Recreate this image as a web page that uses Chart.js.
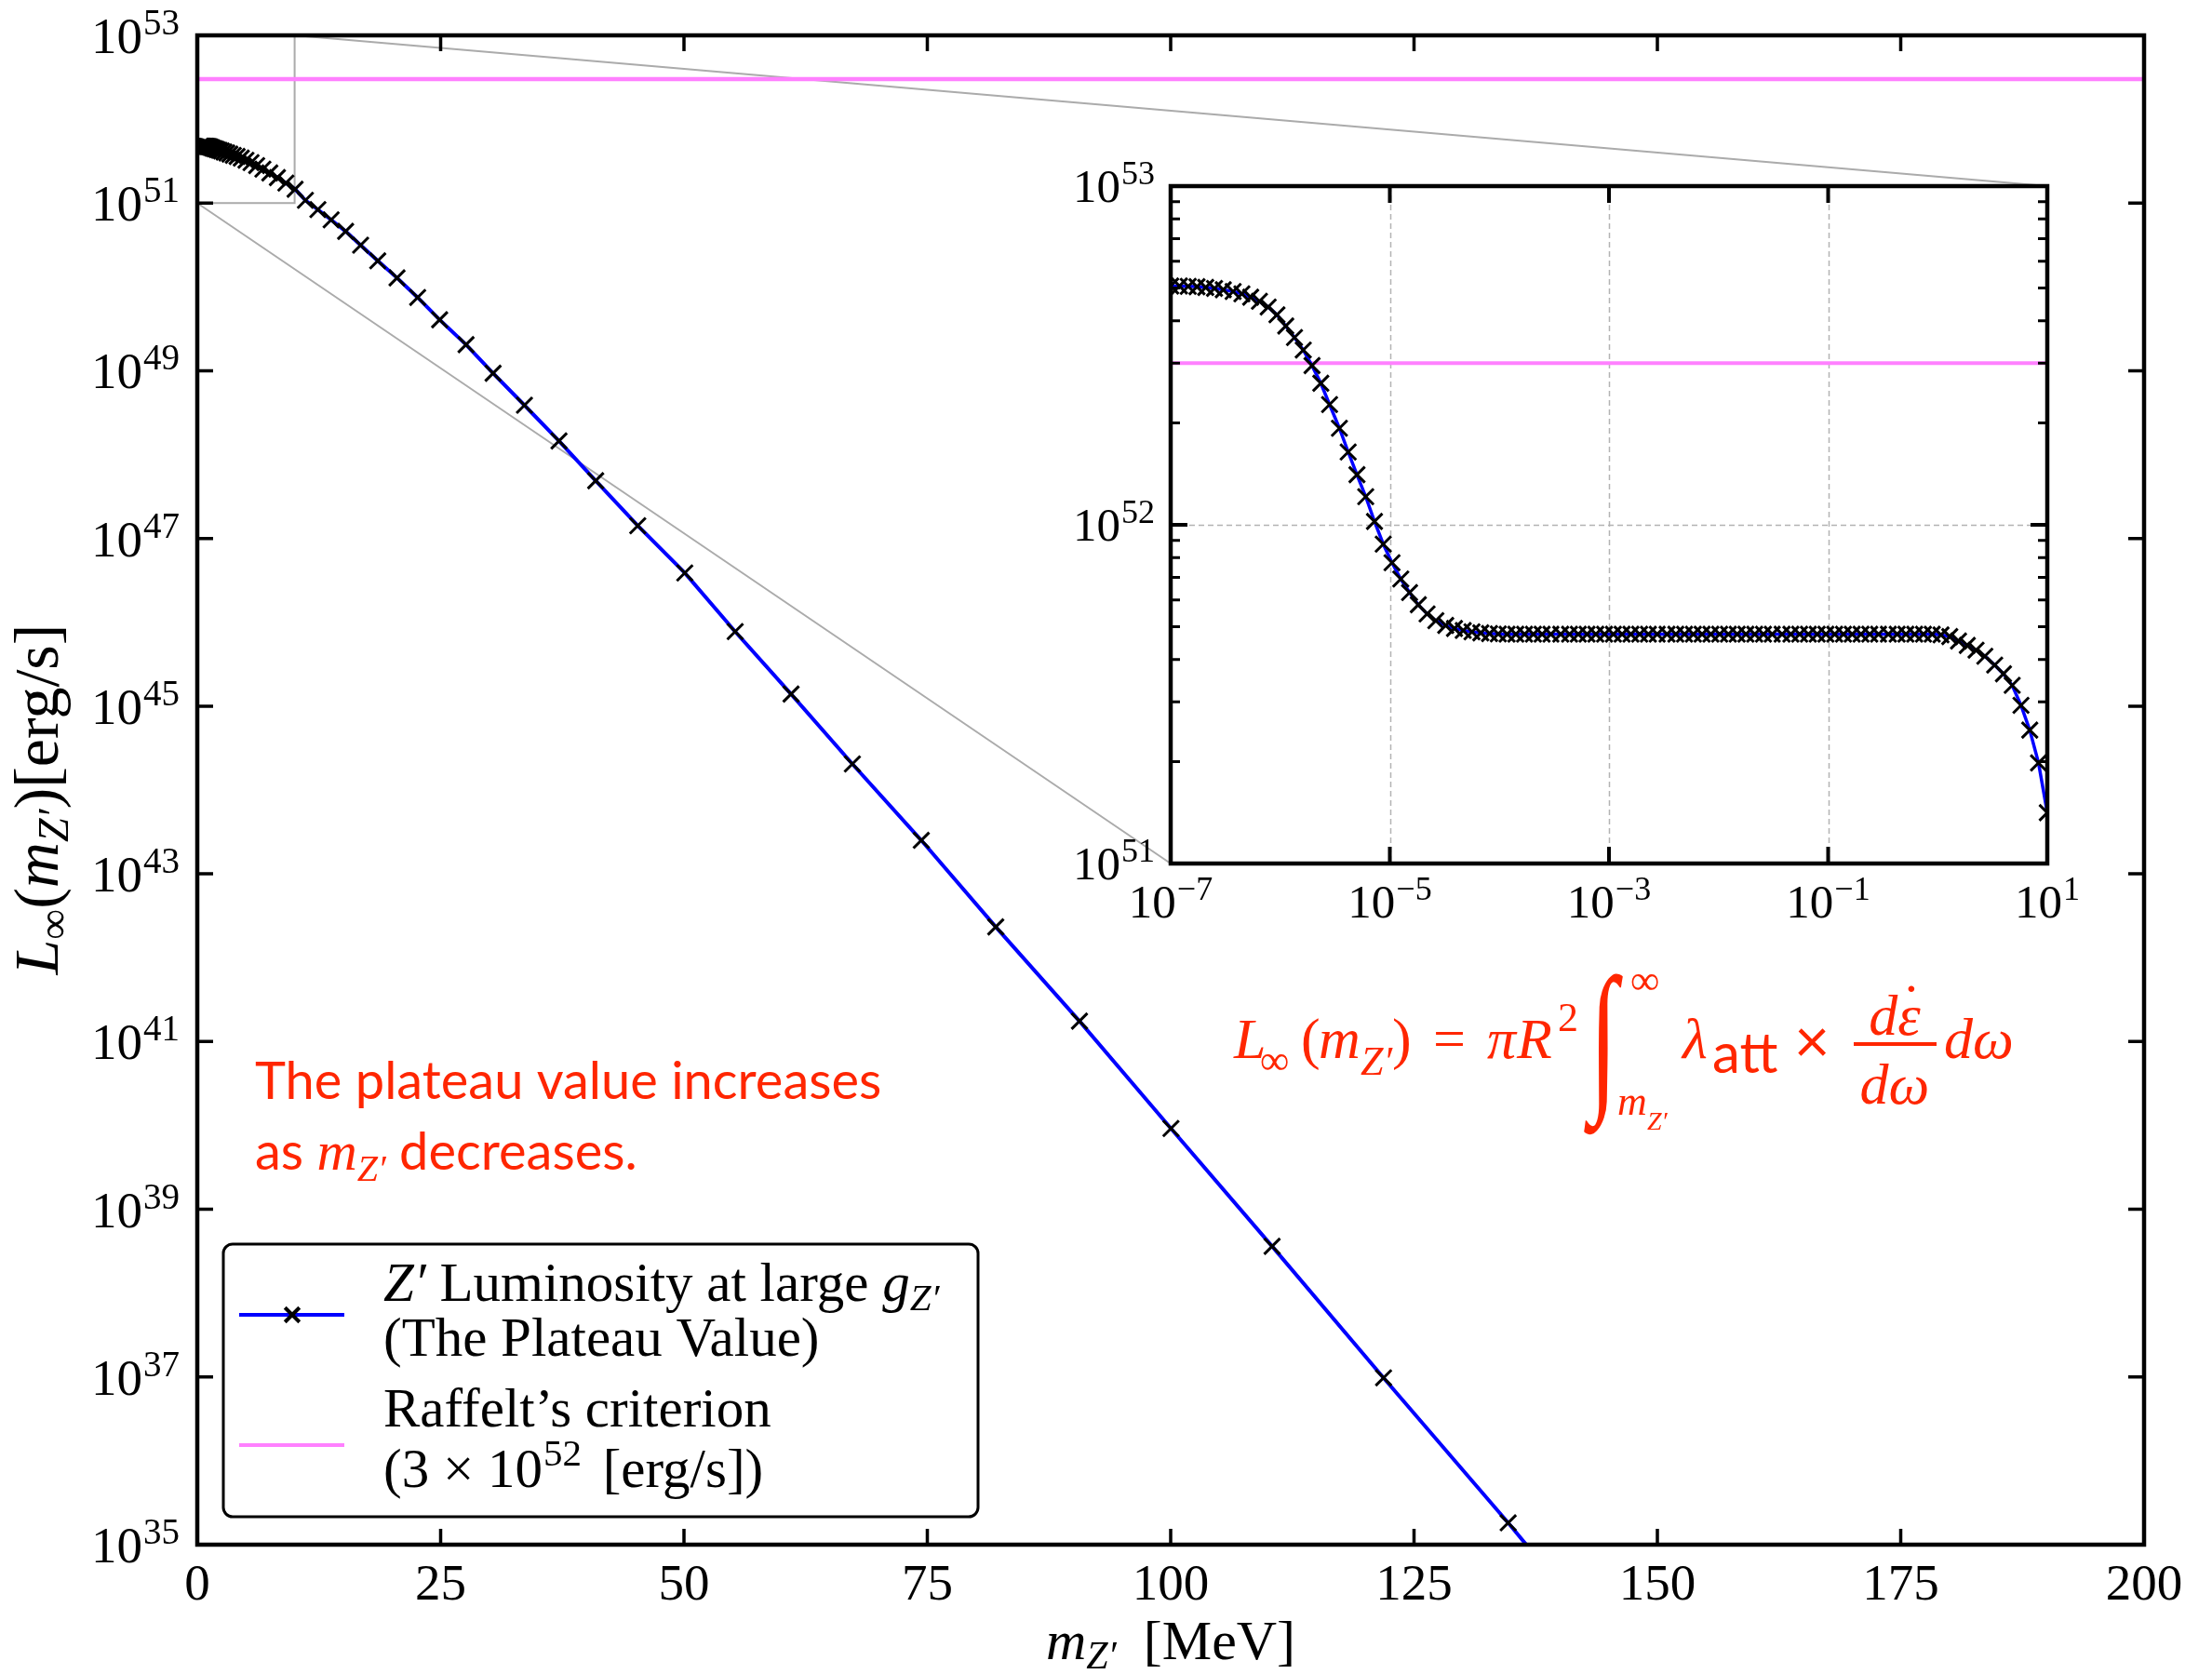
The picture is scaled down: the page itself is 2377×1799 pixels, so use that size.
<!DOCTYPE html>
<html>
<head>
<meta charset="utf-8">
<script src="https://cdn.jsdelivr.net/npm/chart.js@4.4.1/dist/chart.umd.min.js"></script>
<style>
  html, body { margin: 0; padding: 0; background: #fff; }
  #wrap { position: relative; width: 2377px; height: 1799px; overflow: hidden; }
  #main { position: absolute; left: 0; top: 0; width: 2377px; height: 1799px; }
  #inset { position: absolute; left: 1080px; top: 150px; width: 1180px; height: 860px; }
</style>
</head>
<body>
<div id="wrap">
  <canvas id="main" width="2377" height="1799"></canvas>
  <canvas id="inset" width="1180" height="860"></canvas>
</div>
<script>
const mainMass = [
  0.30, 0.34, 0.37, 0.41, 0.45, 0.50, 0.55, 0.61, 0.68, 0.75, 0.83, 0.91,
  1.01, 1.12, 1.23, 1.36, 1.51, 1.67, 1.84, 2.03, 2.25, 2.48,
  2.74, 3.03, 3.35, 3.70, 4.09, 4.52, 5.00, 5.52, 6.10, 6.74,
  7.45, 8.23, 9.10, 10.05,
  11.11, 12.39, 13.75, 15.24, 16.78, 18.54, 20.52, 22.64, 24.90, 27.61,
  30.39, 33.61, 37.16, 40.93, 45.25, 50.08, 55.26, 61.00, 67.30, 74.38,
  82.03, 90.63, 100.03, 110.42, 121.87, 134.67, 148.7,
];
const mainLogL = [
  51.677, 51.677, 51.677, 51.677, 51.677, 51.677, 51.676, 51.676, 51.676, 51.676, 51.676, 51.676,
  51.675, 51.674, 51.671, 51.667, 51.659, 51.652, 51.646, 51.638, 51.630, 51.621,
  51.609, 51.598, 51.584, 51.569, 51.556, 51.537, 51.511, 51.482, 51.447, 51.405,
  51.359, 51.303, 51.238, 51.165,
  51.033, 50.922, 50.800, 50.663, 50.497, 50.311, 50.108, 49.874, 49.608, 49.311,
  48.970, 48.589, 48.163, 47.689, 47.152, 46.589, 45.889, 45.144, 44.311, 43.400,
  42.367, 41.244, 39.963, 38.558, 36.990, 35.260, 33.300,
];

// inset: log10 m_Z' and log10 L
const insetLogMass = [
  -7.00, -6.92, -6.84, -6.76, -6.68, -6.60, -6.52, -6.43, -6.35, -6.27,
  -6.19, -6.11, -6.03, -5.95, -5.87, -5.79, -5.71, -5.63, -5.55, -5.46,
  -5.38, -5.30, -5.22, -5.14, -5.06, -4.98, -4.90, -4.82, -4.74, -4.66,
  -4.58, -4.49, -4.41, -4.33, -4.25, -4.17, -4.09, -4.01, -3.93, -3.85,
  -3.77, -3.69, -3.61, -3.53, -3.44, -3.36, -3.28, -3.20, -3.12, -3.04,
  -2.96, -2.88, -2.80, -2.72, -2.64, -2.56, -2.47, -2.39, -2.31, -2.23,
  -2.15, -2.07, -1.99, -1.91, -1.83, -1.75, -1.67, -1.59, -1.51, -1.42,
  -1.34, -1.26, -1.18, -1.10, -1.02, -0.94, -0.86, -0.78, -0.70, -0.62,
  -0.54, -0.45, -0.37, -0.29, -0.21, -0.13, -0.05, 0.03, 0.11, 0.19,
  0.27, 0.35, 0.43, 0.52, 0.60, 0.68, 0.76, 0.84, 0.92, 1.00,
];
const insetLogL = [
  52.705, 52.705, 52.704, 52.703, 52.701, 52.698, 52.694, 52.689, 52.682, 52.672,
  52.660, 52.643, 52.620, 52.587, 52.553, 52.516, 52.470, 52.418, 52.355, 52.285,
  52.215, 52.148, 52.083, 52.010, 51.943, 51.888, 51.840, 51.800, 51.764, 51.737,
  51.717, 51.703, 51.694, 51.688, 51.684, 51.681, 51.679, 51.678, 51.677, 51.677,
  51.677, 51.677, 51.677, 51.677, 51.677, 51.677, 51.677, 51.677, 51.677, 51.677,
  51.677, 51.677, 51.677, 51.677, 51.677, 51.677, 51.677, 51.677, 51.677, 51.677,
  51.677, 51.677, 51.677, 51.677, 51.677, 51.677, 51.677, 51.677, 51.677, 51.677,
  51.677, 51.677, 51.677, 51.677, 51.677, 51.677, 51.677, 51.677, 51.677, 51.677,
  51.677, 51.677, 51.677, 51.677, 51.677, 51.677, 51.677, 51.675, 51.670, 51.657,
  51.644, 51.630, 51.612, 51.586, 51.560, 51.526, 51.467, 51.394, 51.297, 51.150,
];

const raffeltL = 3e52;

// axes
const mainXRange = [0, 200];
const mainYRange = [1e35, 1e53];
const mainXTicks = [0, 25, 50, 75, 100, 125, 150, 175, 200];
const mainYExponents = [35, 37, 39, 41, 43, 45, 47, 49, 51, 53];
const insetXRange = [1e-7, 1e1];
const insetYRange = [1e51, 1e53];
const insetXExponents = [-7, -5, -3, -1, 1];
const insetYExponents = [51, 52, 53];
const insetMinorSteps = [2, 3, 4, 5, 6, 7, 8, 9];

const SERIF = '"Liberation Serif", "DejaVu Serif", serif';
const SANS = 'Lato, "Noto Sans", sans-serif';
const BLUE = '#0000ff';
const PINK = '#ff80ff';
const GREY = '#ababab';
const RED = '#ff2600';
const INSET_X = 1080, INSET_Y = 150;

const rm = (s) => `${s}px ${SERIF}`;
const it = (s) => `italic ${s}px ${SERIF}`;

function runWidth(ctx, parts) {
  let w = 0;
  for (const p of parts) {
    ctx.font = p.f;
    w += ctx.measureText(p.t).width + (p.dx || 0);
  }
  return w;
}

function drawRun(ctx, parts, x, y, align) {
  const w = runWidth(ctx, parts);
  let cx = align === 'right' ? x - w : align === 'center' ? x - w / 2 : x;
  ctx.textAlign = 'left';
  ctx.textBaseline = 'alphabetic';
  for (const p of parts) {
    ctx.font = p.f;
    cx += p.dx || 0;
    ctx.fillText(p.t, cx, y + (p.dy || 0));
    cx += ctx.measureText(p.t).width;
  }
}

function powRun(e, base, sup, rise) {
  const txt = e < 0 ? '\u2212' + Math.abs(e) : String(e);
  return [{ t: '10', f: rm(base) }, { t: txt, f: rm(sup), dy: -rise, dx: 1 }];
}

const insetDecor = {
  id: 'insetDecor',
  beforeDraw(chart) {
    const { ctx, chartArea: a } = chart;
    ctx.save();
    ctx.fillStyle = '#fff';
    ctx.fillRect(a.left, a.top, a.right - a.left, a.bottom - a.top);
    ctx.restore();
  },
  beforeDatasetsDraw(chart) {
    const { ctx, chartArea: a, scales: { x, y } } = chart;
    ctx.save();
    ctx.strokeStyle = '#b3b3b3';
    ctx.lineWidth = 1.5;
    ctx.setLineDash([6, 4]);
    ctx.beginPath();
    insetXExponents.slice(1, -1).forEach((e) => {
      const px = Math.round(x.getPixelForValue(10 ** e)) + 0.5;
      ctx.moveTo(px, a.top); ctx.lineTo(px, a.bottom);
    });
    insetYExponents.slice(1, -1).forEach((e) => {
      const py = Math.round(y.getPixelForValue(10 ** e)) + 0.5;
      ctx.moveTo(a.left, py); ctx.lineTo(a.right, py);
    });
    ctx.stroke();
    ctx.restore();
  },
  afterDatasetsDraw(chart) {
    const { ctx, chartArea: a, scales: { x, y } } = chart;
    ctx.save();
    ctx.strokeStyle = '#000';
    ctx.lineWidth = 4;
    ctx.beginPath();
    insetXExponents.forEach((e) => {
      const px = x.getPixelForValue(10 ** e);
      ctx.moveTo(px, a.bottom); ctx.lineTo(px, a.bottom - 18);
      ctx.moveTo(px, a.top); ctx.lineTo(px, a.top + 18);
    });
    insetYExponents.forEach((e) => {
      const py = y.getPixelForValue(10 ** e);
      ctx.moveTo(a.left, py); ctx.lineTo(a.left + 18, py);
      ctx.moveTo(a.right, py); ctx.lineTo(a.right - 18, py);
    });
    ctx.stroke();
    ctx.lineWidth = 3;
    ctx.beginPath();
    insetYExponents.slice(0, -1).forEach((e) => {
      insetMinorSteps.forEach((k) => {
        const py = y.getPixelForValue(k * 10 ** e);
        ctx.moveTo(a.left, py); ctx.lineTo(a.left + 10, py);
        ctx.moveTo(a.right, py); ctx.lineTo(a.right - 10, py);
      });
    });
    ctx.stroke();
    ctx.lineWidth = 4.5;
    ctx.strokeRect(a.left, a.top, a.right - a.left, a.bottom - a.top);

    ctx.fillStyle = '#000';
    insetXExponents.forEach((e) => {
      drawRun(ctx, powRun(e, 51, 36, 19), x.getPixelForValue(10 ** e), a.bottom + 58, 'center');
    });
    insetYExponents.forEach((e) => {
      drawRun(ctx, powRun(e, 51, 36, 19), a.left - 17, y.getPixelForValue(10 ** e) + 17, 'right');
    });
    ctx.restore();
  },
};

const insetChart = new Chart(document.getElementById('inset'), {
  type: 'line',
  data: {
    datasets: [
      {
        label: 'inset',
        data: insetLogMass.map((v, i) => ({ x: 10 ** v, y: 10 ** insetLogL[i] })),
        borderColor: BLUE,
        borderWidth: 3.5,
        pointStyle: 'crossRot',
        pointRadius: 12,
        pointBorderColor: '#000',
        pointBorderWidth: 3,
        pointBackgroundColor: 'rgba(0,0,0,0)',
        tension: 0,
        clip: 0,
      },
      {
        label: 'raffelt',
        data: [{ x: insetXRange[0], y: raffeltL }, { x: insetXRange[1], y: raffeltL }],
        borderColor: PINK,
        borderWidth: 4,
        pointRadius: 0,
        clip: 0,
      },
    ],
  },
  options: {
    responsive: false,
    animation: false,
    devicePixelRatio: 1,
    events: [],
    layout: { padding: { left: 178, top: 50, right: 60, bottom: 82 } },
    plugins: { legend: { display: false }, tooltip: { enabled: false } },
    scales: {
      x: { type: 'logarithmic', min: insetXRange[0], max: insetXRange[1], display: false },
      y: { type: 'logarithmic', min: insetYRange[0], max: insetYRange[1], display: false },
    },
  },
  plugins: [insetDecor],
});

function drawLegend(ctx) {
  const L = 240, T = 1337, R = 1051, B = 1630;
  ctx.save();
  ctx.beginPath();
  ctx.roundRect(L, T, R - L, B - T, 10);
  ctx.fillStyle = '#fff';
  ctx.fill();
  ctx.lineWidth = 3;
  ctx.strokeStyle = '#000';
  ctx.stroke();

  ctx.lineWidth = 4;
  ctx.strokeStyle = BLUE;
  ctx.beginPath(); ctx.moveTo(257, 1413); ctx.lineTo(370, 1413); ctx.stroke();
  ctx.strokeStyle = '#000';
  Chart.helpers.drawPoint(ctx, { pointStyle: 'crossRot', radius: 11, borderWidth: 3, rotation: 0 }, 314, 1413);
  ctx.strokeStyle = PINK;
  ctx.lineWidth = 4;
  ctx.beginPath(); ctx.moveTo(257, 1553); ctx.lineTo(370, 1553); ctx.stroke();

  ctx.fillStyle = '#000';
  const fs = 59;
  drawRun(ctx, [
    { t: 'Z\u2032', f: it(fs) },
    { t: ' Luminosity at large ', f: rm(fs) },
    { t: 'g', f: it(fs) },
    { t: 'Z\u2032', f: it(41), dy: 10 },
  ], 412, 1398, 'left');
  drawRun(ctx, [{ t: '(The Plateau Value)', f: rm(fs) }], 412, 1457, 'left');
  drawRun(ctx, [{ t: 'Raffelt\u2019s criterion', f: rm(fs) }], 412, 1533, 'left');
  drawRun(ctx, [
    { t: '(3 \u00d7 10', f: rm(fs) },
    { t: '52', f: rm(41), dy: -23, dx: 1 },
    { t: ' [erg/s])', f: rm(fs), dx: 8 },
  ], 412, 1598, 'left');
  ctx.restore();
}

function drawNotes(ctx) {
  ctx.save();
  ctx.fillStyle = RED;
  drawRun(ctx, [{ t: 'The plateau value increases', f: `56px ${SANS}` }], 274, 1181, 'left');
  drawRun(ctx, [
    { t: 'as ', f: `56px ${SANS}` },
    { t: 'm', f: it(60) },
    { t: 'Z\u2032', f: it(40), dy: 12 },
    { t: ' decreases.', f: `56px ${SANS}` },
  ], 274, 1257, 'left');

  // L_inf(m_Z') = pi R^2 int lambda_att x d(eps dot)/d(omega) d(omega)
  const f = 62, s = 44;
  ctx.textAlign = 'left';
  ctx.textBaseline = 'alphabetic';
  const put = (t, fnt, x, y) => { ctx.font = fnt; ctx.fillText(t, x, y); };
  put('L', it(f), 1326, 1137);
  put('\u221e', rm(s), 1354, 1154);
  put('(', rm(f), 1398, 1137);
  put('m', it(f), 1417, 1137);
  put('Z\u2032', it(s), 1462, 1155);
  put(')', rm(f), 1496, 1137);
  put('=', rm(f), 1540, 1137);
  put('\u03c0', it(f), 1598, 1137);
  put('R', it(f), 1630, 1137);
  put('2', rm(s), 1674, 1108);
  ctx.save();
  ctx.translate(1708, 1172);
  ctx.scale(1, 1.6);
  put('\u222b', it(110), 0, 0);
  ctx.restore();
  put('\u221e', rm(s), 1752, 1068);
  put('m', it(s), 1738, 1198);
  put('Z\u2032', it(28), 1770, 1214);
  put('\u03bb', it(f), 1808, 1137);
  put('att', `60px ${SANS}`, 1840, 1153);
  put('\u00d7', `66px ${SANS}`, 1928, 1142);
  ctx.font = it(f);
  const dW = ctx.measureText('d').width;
  const eW = ctx.measureText('\u03b5').width;
  const numX = 2036 - (dW + eW) / 2;
  put('d', it(f), numX, 1112);
  put('\u03b5', it(f), numX + dW, 1112);
  put('\u02d9', rm(f), numX + dW + eW / 2 - 8, 1112 - 12);
  ctx.font = it(f);
  const den = 'd\u03c9';
  put(den, it(f), 2036 - ctx.measureText(den).width / 2, 1186);
  ctx.fillRect(1992, 1120, 89, 4);
  put('d\u03c9', it(f), 2089, 1137);
  ctx.restore();
}

const mainDecor = {
  id: 'mainDecor',
  beforeDatasetsDraw(chart) {
    const { ctx, scales: { x, y } } = chart;
    const ia = insetChart.chartArea;
    const bl = x.getPixelForValue(0);
    const br = x.getPixelForValue(insetXRange[1]);
    const bt = y.getPixelForValue(insetYRange[1]);
    const bb = y.getPixelForValue(insetYRange[0]);
    ctx.save();
    ctx.strokeStyle = GREY;
    ctx.lineWidth = 2;
    ctx.strokeRect(bl, bt, br - bl, bb - bt);
    ctx.beginPath();
    ctx.moveTo(br, bt); ctx.lineTo(INSET_X + ia.right, INSET_Y + ia.top);
    ctx.moveTo(bl, bb); ctx.lineTo(INSET_X + ia.left, INSET_Y + ia.bottom);
    ctx.stroke();
    ctx.restore();
  },
  afterDatasetsDraw(chart) {
    const { ctx, chartArea: a, scales: { x, y } } = chart;
    ctx.save();
    ctx.strokeStyle = '#000';
    ctx.lineWidth = 3.5;
    ctx.beginPath();
    mainXTicks.forEach((v) => {
      const px = x.getPixelForValue(v);
      ctx.moveTo(px, a.bottom); ctx.lineTo(px, a.bottom - 17);
      ctx.moveTo(px, a.top); ctx.lineTo(px, a.top + 17);
    });
    mainYExponents.forEach((e) => {
      const py = y.getPixelForValue(10 ** e);
      ctx.moveTo(a.left, py); ctx.lineTo(a.left + 17, py);
      ctx.moveTo(a.right, py); ctx.lineTo(a.right - 17, py);
    });
    ctx.stroke();
    ctx.lineWidth = 4.5;
    ctx.strokeRect(a.left, a.top, a.right - a.left, a.bottom - a.top);

    ctx.fillStyle = '#000';
    mainXTicks.forEach((v) => {
      drawRun(ctx, [{ t: String(v), f: rm(55) }], x.getPixelForValue(v), a.bottom + 59, 'center');
    });
    mainYExponents.forEach((e) => {
      drawRun(ctx, powRun(e, 55, 39, 20), a.left - 19, y.getPixelForValue(10 ** e) + 19, 'right');
    });

    drawRun(ctx, [
      { t: 'm', f: it(60) },
      { t: 'Z\u2032', f: it(42), dy: 10 },
      { t: ' [MeV]', f: rm(60), dx: 14 },
    ], (a.left + a.right) / 2, 1783, 'center');

    ctx.save();
    ctx.translate(62, (a.top + a.bottom) / 2 + 10);
    ctx.rotate(-Math.PI / 2);
    drawRun(ctx, [
      { t: 'L', f: it(68) },
      { t: '\u221e', f: rm(46), dy: 11 },
      { t: '(', f: rm(68) },
      { t: 'm', f: it(68) },
      { t: 'Z\u2032', f: it(46), dy: 11 },
      { t: ')', f: rm(68) },
      { t: '[erg/s]', f: rm(68) },
    ], 0, 0, 'center');
    ctx.restore();
    ctx.restore();
  },
  afterDraw(chart) {
    drawNotes(chart.ctx);
    drawLegend(chart.ctx);
  },
};

new Chart(document.getElementById('main'), {
  type: 'line',
  data: {
    datasets: [
      {
        label: "Z' Luminosity at large g_Z'",
        data: mainMass.map((m, i) => ({ x: m, y: 10 ** mainLogL[i] })),
        borderColor: BLUE,
        borderWidth: 4,
        pointStyle: 'crossRot',
        pointRadius: 12,
        pointBorderColor: '#000',
        pointBorderWidth: 3,
        pointBackgroundColor: 'rgba(0,0,0,0)',
        tension: 0,
        clip: 0,
      },
      {
        label: "Raffelt's criterion",
        data: [{ x: mainXRange[0], y: raffeltL }, { x: mainXRange[1], y: raffeltL }],
        borderColor: PINK,
        borderWidth: 4.5,
        pointRadius: 0,
        clip: 0,
      },
    ],
  },
  options: {
    responsive: false,
    animation: false,
    devicePixelRatio: 1,
    events: [],
    layout: { padding: { left: 212, top: 38, right: 73, bottom: 139 } },
    plugins: { legend: { display: false }, tooltip: { enabled: false } },
    scales: {
      x: { type: 'linear', min: mainXRange[0], max: mainXRange[1], display: false },
      y: { type: 'logarithmic', min: mainYRange[0], max: mainYRange[1], display: false },
    },
  },
  plugins: [mainDecor],
});
</script>
</body>
</html>
